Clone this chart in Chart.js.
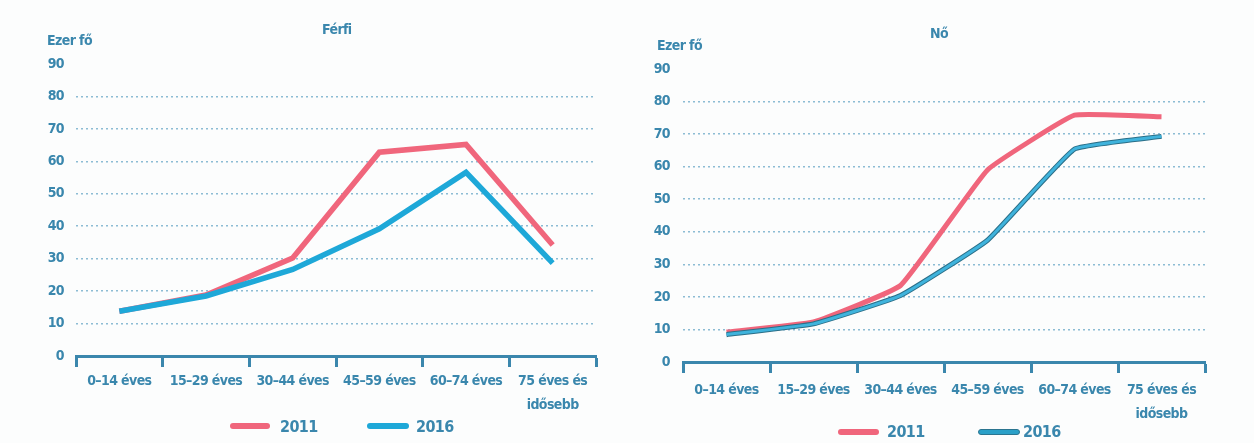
<!DOCTYPE html>
<html><head><meta charset="utf-8">
<script src="https://cdn.jsdelivr.net/npm/chart.js@4.4.1/dist/chart.umd.min.js"></script>
<style>
html,body{margin:0;padding:0;background:#fcfdfd;}
#wrap{position:relative;width:1254px;height:443px;overflow:hidden;font-family:'DejaVu Sans Condensed',sans-serif;font-weight:bold;color:#3a87ad;letter-spacing:-0.6px;}
.cv{position:absolute;top:0;width:627px;height:443px;}
.t{position:absolute;white-space:nowrap;line-height:1;}
.bar{position:absolute;height:6px;border-radius:3px;}
</style></head><body>
<div id="wrap">
  <div class="cv" style="left:0"><canvas id="c1" width="627" height="443"></canvas></div>
  <div class="cv" style="left:627px"><canvas id="c2" width="627" height="443"></canvas></div>

  <div class="t" style="left:322px;top:22px;font-size:14px;">Férfi</div>
  <div class="t" style="left:47px;top:33px;font-size:14px;">Ezer fő</div>
  <div class="bar" style="left:230px;top:423px;width:40px;background:#f0667c;"></div>
  <div class="t" style="left:280px;top:419px;font-size:16px;">2011</div>
  <div class="bar" style="left:367px;top:423px;width:42px;background:#1ea8d8;"></div>
  <div class="t" style="left:416px;top:419px;font-size:16px;">2016</div>

  <div class="t" style="left:930px;top:26px;font-size:14px;">Nő</div>
  <div class="t" style="left:657px;top:38px;font-size:14px;">Ezer fő</div>
  <div class="bar" style="left:838px;top:429px;width:41px;background:#f0667c;"></div>
  <div class="t" style="left:887px;top:424px;font-size:16px;">2011</div>
  <div class="bar" style="left:978px;top:429px;width:40px;background:#2aa0c8;border:1px solid #2b7590;height:4px;"></div>
  <div class="t" style="left:1023px;top:424px;font-size:16px;">2016</div>
</div>
<script>
const categories = ['0–14 éves', '15–29 éves', '30–44 éves', '45–59 éves', '60–74 éves', ['75 éves és', 'idősebb']];
const yTickValues = [0, 10, 20, 30, 40, 50, 60, 70, 80, 90];
const seriesNames = ['2011', '2016'];
const ferfi2011 = [13.8, 18.8, 30.2, 62.8, 65.2, 34.2];
const ferfi2016 = [13.8, 18.5, 26.7, 39.2, 56.6, 28.6];
const no2011 = [9.2, 12.3, 23.5, 59.0, 75.8, 75.3];
const no2016 = [8.4, 11.7, 20.4, 37.4, 65.4, 69.3];

const FONT = "'DejaVu Sans Condensed',sans-serif";
const TXT = '#3a87ad';
const AX = '#3b87ad';
const RED = '#f0667c';
const BLUE = '#1ea8d8';

const outlinePlugin = {
  id: 'outline',
  beforeDraw(chart) { chart.ctx.letterSpacing = '-0.6px'; },
  beforeDatasetDraw(chart, args) {
    const ds = chart.data.datasets[args.index];
    if (!ds.outlineColor) return;
    const line = args.meta.dataset;
    const ctx = chart.ctx;
    ctx.save();
    ctx.beginPath();
    line.path(ctx);
    ctx.lineWidth = ds.borderWidth + 2;
    ctx.strokeStyle = ds.outlineColor;
    ctx.lineJoin = 'round';
    ctx.stroke();
    ctx.restore();
  }
};

function makeChart(id, d2011, d2016, geo) {
  return new Chart(document.getElementById(id), {
    type: 'line',
    data: {
      labels: categories,
      datasets: [
        { label: seriesNames[0], data: d2011, borderColor: RED, borderWidth: geo.redWidth, pointRadius: 0, tension: geo.tension, order: 1 },
        { label: seriesNames[1], data: d2016, borderColor: geo.blue, borderWidth: geo.blueWidth, pointRadius: 0, tension: geo.tension, order: 0, outlineColor: geo.outline }
      ]
    },
    options: {
      responsive: false,
      animation: false,
      layout: { padding: { left: geo.padLeft, right: geo.padRight, top: geo.top, bottom: geo.padBottom } },
      plugins: { legend: { display: false }, title: { display: false }, tooltip: { enabled: false } },
      scales: {
        x: {
          offset: true,
          grid: { offset: true, drawOnChartArea: false, drawTicks: true, tickLength: geo.tickLen, tickColor: AX, tickWidth: 3 },
          border: { display: true, color: AX, width: 3 },
          ticks: { color: TXT, font: { family: FONT, size: 14, weight: 'bold', lineHeight: geo.lh }, padding: geo.xPad, maxRotation: 0, autoSkip: false },
          afterFit: s => { s.height = geo.xHeight; }
        },
        y: {
          min: 0, max: 90,
          afterBuildTicks: s => { s.ticks = yTickValues.map(v => ({ value: v })); },
          grid: {
            drawTicks: false,
            lineWidth: 1.5,
            color: c => (c.tick && (c.tick.value === 0 || c.tick.value === 90)) ? 'rgba(0,0,0,0)' : '#8cbcd4'
          },
          border: { display: false, dash: [2, 3] },
          ticks: { color: TXT, font: { family: FONT, size: 14, weight: 'bold' }, padding: geo.yPad, callback: v => String(v) },
          afterFit: s => { s.width = geo.yWidth; }
        }
      }
    },
    plugins: [outlinePlugin]
  });
}

makeChart('c1', ferfi2011, ferfi2016, {
  padLeft: 40, yWidth: 36, padRight: 31, top: 64, padBottom: 32, xHeight: 55,
  tickLen: 11, xPad: 2, lh: 1.75, yPad: 12, tension: 0, redWidth: 5.5, blue: BLUE, blueWidth: 5.5, outline: null
});
makeChart('c2', no2011, no2016, {
  padLeft: 26, yWidth: 30, padRight: 49, top: 69, padBottom: 24, xHeight: 57,
  tickLen: 11, xPad: 5, lh: 1.75, yPad: 13, tension: 0.1, redWidth: 5, blue: '#3fb3dc', blueWidth: 3, outline: '#2b6f88'
});
</script>
</body></html>
